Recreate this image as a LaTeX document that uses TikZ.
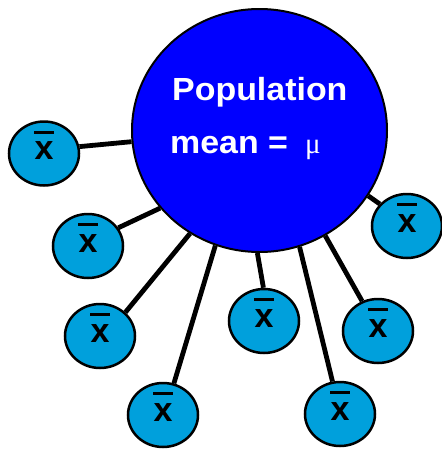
\documentclass[tikz,border=0pt]{standalone}
\usepackage{fontspec}
\setmainfont{Liberation Sans}
\newfontfamily\muserif{Liberation Serif}
\usetikzlibrary{shapes.geometric}
\definecolor{popblue}{RGB}{0,0,255}
\definecolor{sampblue}{RGB}{0,160,220}
\begin{document}
\begin{tikzpicture}[x=1pt,y=-1pt,
  popstyle/.style={ellipse, draw=black, line width=2pt, fill=popblue,
    minimum width=255pt, minimum height=243pt, inner sep=0pt},
  sampstyle/.style={ellipse, draw=black, line width=2.5pt, fill=sampblue,
    minimum width=70pt, minimum height=64pt, inner sep=0pt,
    font=\fontsize{34}{34}\selectfont\bfseries, text height=12.8pt, text depth=0pt,
    path picture={\fill[black] ([xshift=-10pt,yshift=20pt]path picture bounding box.center) rectangle ++(20pt,3pt);}},
  link/.style={line width=4.8pt, black},
  poptext/.style={text=white, font=\fontsize{32}{32}\selectfont\bfseries, anchor=base west, inner sep=0pt}]
\useasboundingbox (0,0) rectangle (442,451);
\node[popstyle] (pop) at (259.5,130.5) {};
\node[poptext] (t1) at (172,100) {\scalebox{1.06}[1]{Population}};
\node[poptext] (t2) at (170,153) {\scalebox{1.06}[1]{mean =}\hspace{17pt}{\muserif\mdseries\fontsize{29}{29}\selectfont μ}};
\node[sampstyle] (s1) at (44,153.5) {x};
\node[sampstyle] (s2) at (88,246) {x};
\node[sampstyle] (s3) at (100,336) {x};
\node[sampstyle] (s4) at (163,415) {x};
\node[sampstyle] (s5) at (264,321) {x};
\node[sampstyle] (s6) at (340,414) {x};
\node[sampstyle] (s7) at (378,331) {x};
\node[sampstyle] (s8) at (407,226) {x};
\draw[link] (s1.11.8) -- (pop.185.6);
\draw[link] (s2.31.7) -- (pop.218.5);
\draw[link] (s3.43.9) -- (pop.236);
\draw[link] (s4.71) -- (pop.249.6);
\draw[link] (s5.91.7) -- (pop.269.3);
\draw[link] (s6.103) -- (pop.289);
\draw[link] (s7.118.6) -- (pop.302.7);
\draw[link] (s8.141.6) -- (pop.329);
\end{tikzpicture}
\end{document}
